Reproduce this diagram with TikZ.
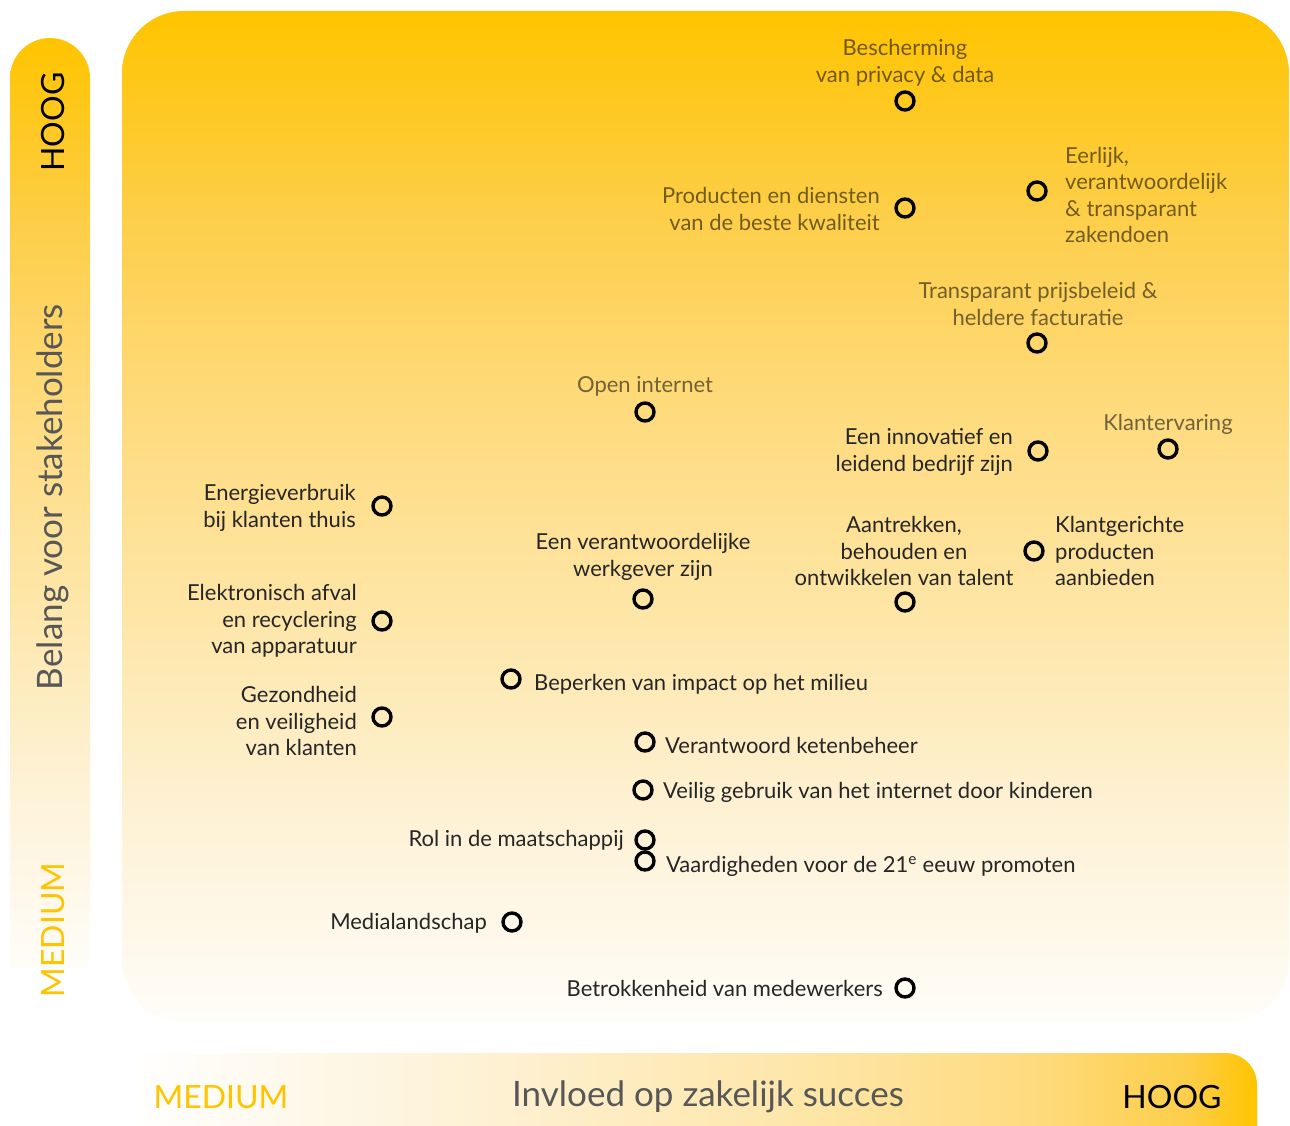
\documentclass[tikz,border=0pt]{standalone}
\usepackage{fontspec}
\setmainfont{Lato}
\definecolor{kyellow}{HTML}{FFC400}
\definecolor{labeldark}{HTML}{262626}
\definecolor{axisgray}{HTML}{575757}
\definecolor{pA}{HTML}{FFFDF9}
\definecolor{pB}{HTML}{FEF2D6}
\definecolor{pC}{HTML}{FEE6A8}
\definecolor{pD}{HTML}{FEDB7E}
\definecolor{pE}{HTML}{FDCE48}
\definecolor{pF}{HTML}{FFC400}
\pgfdeclareverticalshading{panelshade}{100bp}{color(0bp)=(pA); color(25bp)=(pA); color(35bp)=(pB); color(45bp)=(pC); color(55bp)=(pD); color(65bp)=(pE); color(75bp)=(pF); color(100bp)=(pF)}
\pgfdeclarehorizontalshading{barshade}{100bp}{color(0bp)=(white); color(25bp)=(white); color(40bp)=(pB); color(55bp)=(pC); color(65bp)=(pD); color(72bp)=(pE); color(75bp)=(pF); color(100bp)=(pF)}
\tikzset{
  dot/.style={circle, draw=black, line width=3.4pt, minimum size=18pt, inner sep=0pt},
  lbl/.style={font=\fontsize{22}{26.5}\selectfont, text=labeldark, inner sep=0pt},
  lbllight/.style={lbl, text=black, text opacity=0.55},
  axiscaps/.style={font=\fontsize{32}{36}\selectfont, inner sep=0pt},
  axistitle/.style={font=\fontsize{35}{40}\selectfont, inner sep=0pt, text=axisgray}
}
\begin{document}
\begin{tikzpicture}[x=1pt,y=-1pt]
\useasboundingbox (0,0) rectangle (1290,1126);
\begin{scope}
\clip (0,0) rectangle (1290,1126);
% main panel
\shade[shading=panelshade, rounded corners=62pt] (122,11) rectangle (1289,1022);
% left bar
\shade[shading=panelshade] (10,968) -- (10,78) .. controls (10,56) and (28,38) .. (50,38) .. controls (72,38) and (90,56) .. (90,78) -- (90,968) -- cycle;
% bottom bar
\shade[shading=barshade] (130,1140) -- (130,1053) -- (1225,1053) .. controls (1243,1053) and (1257,1067) .. (1257,1085) -- (1257,1140) -- cycle;
\end{scope}

% axis labels
\node[axiscaps, rotate=90, text=black] (yhigh) at (53,122) {HOOG};
\node[axistitle, rotate=90] (ytitle) at (53,497) {Belang voor stakeholders};
\node[axiscaps, rotate=90, text=kyellow] (ymed) at (53,930) {MEDIUM};
\node[axiscaps, text=kyellow] (xmed) at (221,1097) {MEDIUM};
\node[axistitle] (xtitle) at (708,1097) {Invloed op zakelijk succes};
\node[axiscaps, text=black] (xhigh) at (1172,1097) {HOOG};

% dots
\node[dot] (d1) at (905,101) {};
\node[dot] (d2) at (905,208) {};
\node[dot] (d3) at (1037,191) {};
\node[dot] (d4) at (1037,343) {};
\node[dot] (d5) at (645,412) {};
\node[dot] (d6) at (1038,451) {};
\node[dot] (d7) at (1168,449) {};
\node[dot] (d8) at (382,506) {};
\node[dot] (d9) at (643,599) {};
\node[dot] (d10) at (905,602) {};
\node[dot] (d11) at (1034,551) {};
\node[dot] (d12) at (382,621) {};
\node[dot] (d13) at (511,679) {};
\node[dot] (d14) at (382,717) {};
\node[dot] (d15) at (645,742) {};
\node[dot] (d16) at (643,790) {};
\node[dot] (d17) at (645,840) {};
\node[dot] (d18) at (645,861) {};
\node[dot] (d19) at (512,922) {};
\node[dot] (d20) at (905,988) {};

% labels
\node[lbllight, align=center] (l1) at (905,63) {Bescherming\\van privacy \& data};
\node[lbllight, align=right, anchor=east] (l2) at (880,209) {Producten en diensten\\van de beste kwaliteit};
\node[lbllight, align=left, anchor=west] (l3) at (1065,195) {Eerlijk,\\verantwoordelijk\\\& transparant\\zakendoen};
\node[lbllight, align=center] (l4) at (1038,304) {Transparant prijsbeleid \&\\heldere facturatie};
\node[lbllight] (l5) at (645,386) {Open internet};
\node[lbl, align=right, anchor=east] (l6) at (1013,452) {Een innovatief en\\leidend bedrijf zijn};
\node[lbllight] (l7) at (1168,424) {Klantervaring};
\node[lbl, align=right, anchor=east] (l8) at (356,508) {Energieverbruik\\bij klanten thuis};
\node[lbl, align=center] (l9) at (643,557) {Een verantwoordelijke\\werkgever zijn};
\node[lbl, align=center] (l10) at (904,551) {Aantrekken,\\behouden en\\ontwikkelen van talent};
\node[lbl, align=left, anchor=west] (l11) at (1055,551) {Klantgerichte\\producten\\aanbieden};
\node[lbl, align=right, anchor=east] (l12) at (357,621) {Elektronisch afval\\en recyclering\\van apparatuur};
\node[lbl, anchor=west] (l13) at (534,684) {Beperken van impact op het milieu};
\node[lbl, align=right, anchor=east] (l14) at (357,721) {Gezondheid\\en veiligheid\\van klanten};
\node[lbl, anchor=west] (l15) at (665,745) {Verantwoord ketenbeheer};
\node[lbl, anchor=west] (l16) at (663,792) {Veilig gebruik van het internet door kinderen};
\node[lbl, anchor=east] (l17) at (624,840) {Rol in de maatschappij};
\node[lbl, anchor=west] (l18) at (666,866) {Vaardigheden voor de 21\textsuperscript{e} eeuw promoten};
\node[lbl, anchor=east] (l19) at (487,923) {Medialandschap};
\node[lbl, anchor=east] (l20) at (883,988) {Betrokkenheid van medewerkers};
\end{tikzpicture}
\end{document}
